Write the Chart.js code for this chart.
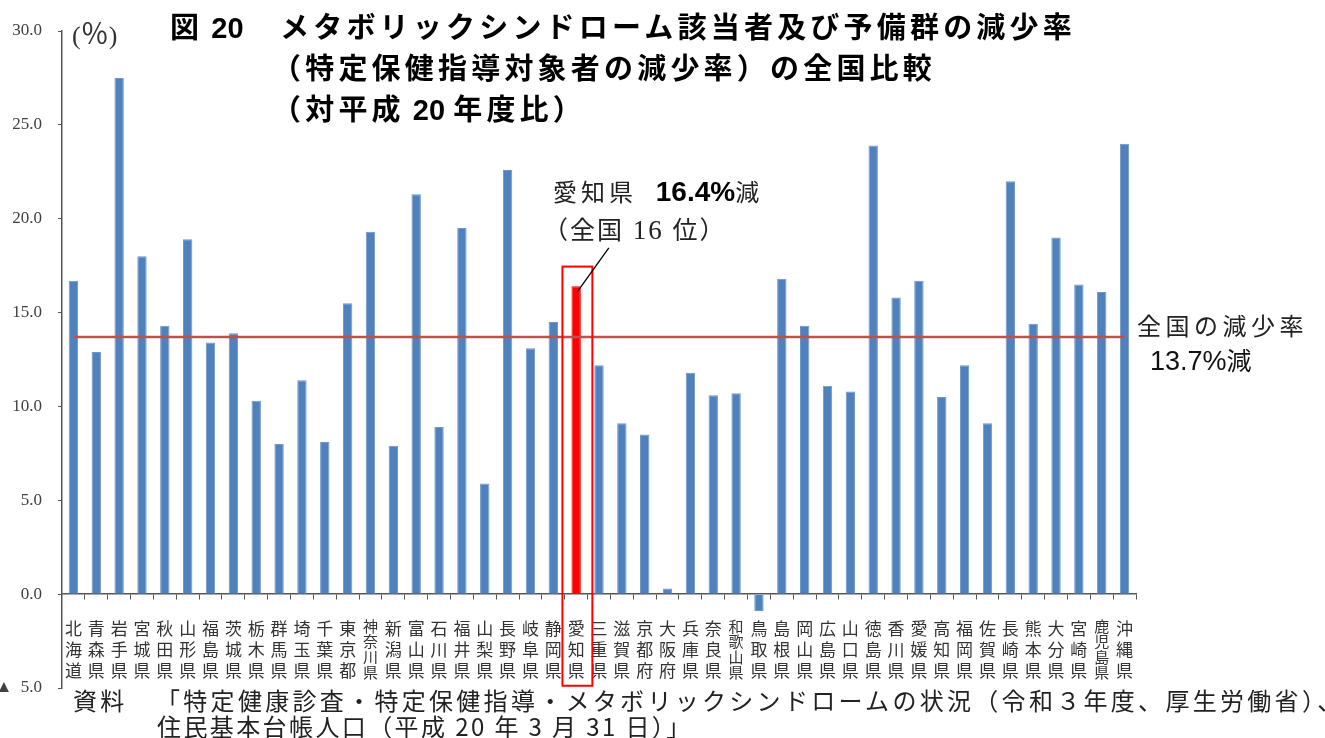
<!DOCTYPE html>
<html><head><meta charset="utf-8">
<script src="https://cdn.jsdelivr.net/npm/chart.js@4.4.1/dist/chart.umd.min.js"></script>
<style>
html,body{margin:0;padding:0;background:#fff;}
#wrap{position:relative;width:1325px;height:738px;overflow:hidden;background:#fff;}
#c{position:absolute;left:0;top:0;}
.t{position:absolute;white-space:nowrap;font-family:"Noto Sans CJK JP",sans-serif;line-height:1;}
.title{font-weight:700;font-size:29px;letter-spacing:4.2px;color:#000;}
.note{font-size:24px;letter-spacing:3.3px;color:#222;font-weight:400;}
.num{font-family:"Liberation Sans",Arial,sans-serif;}
.ser{font-family:"Liberation Serif",serif;}
</style></head>
<body><div id="wrap"><canvas id="c" width="1325" height="738"></canvas>
<div class="t" style="left:72px;top:18px;font-size:26px;color:#333;"><span class="ser">(</span><span style="font-size:28px;">％</span><span class="ser">)</span></div>
<div class="t title" style="left:170px;top:11px;">図<span class="num" style="letter-spacing:0"> 20</span></div>
<div class="t title" style="left:280px;top:11px;">メタボリックシンドローム該当者及び予備群の減少率</div>
<div class="t title" style="left:272px;top:52px;">（特定保健指導対象者の減少率）の全国比較</div>
<div class="t title" style="left:272px;top:93px;">（対平成<span class="num" style="letter-spacing:0"> 20 </span>年度比）</div>
<div class="t" style="left:553px;top:178px;font-size:24px;letter-spacing:4px;color:#222;">愛知県&nbsp;&nbsp;<span class="num" style="font-weight:700;font-size:28px;letter-spacing:0;color:#000;">16.4%</span>減</div>
<div class="t" style="left:543px;top:216px;font-size:25px;letter-spacing:2px;color:#222;">（全国<span class="ser" style="font-size:27px;"> 16 </span>位）</div>
<div class="t" style="left:1137px;top:313px;font-size:24px;letter-spacing:4.5px;color:#222;">全国の減少率</div>
<div class="t" style="left:1150px;top:347px;font-size:25px;color:#111;"><span class="num" style="font-size:27px;">13.7%</span>減</div>
<div class="t note" style="left:73px;top:688px;">資料</div>
<div class="t note" style="left:156px;top:688px;">「特定健康診査・特定保健指導・メタボリックシンドロームの状況（令和３年度、厚生労働省）、</div>
<div class="t note" style="left:157px;top:714px;letter-spacing:2.4px;">住民基本台帳人口（平成 20 年 3 月 31 日）」</div>
</div>
<script>
const prefectures = ['北海道','青森県','岩手県','宮城県','秋田県','山形県','福島県','茨城県','栃木県','群馬県','埼玉県','千葉県','東京都','神奈川県','新潟県','富山県','石川県','福井県','山梨県','長野県','岐阜県','静岡県','愛知県','三重県','滋賀県','京都府','大阪府','兵庫県','奈良県','和歌山県','鳥取県','島根県','岡山県','広島県','山口県','徳島県','香川県','愛媛県','高知県','福岡県','佐賀県','長崎県','熊本県','大分県','宮崎県','鹿児島県','沖縄県'];
const reductionRates = [16.7,12.9,27.5,18.0,14.3,18.9,13.4,13.9,10.3,8.0,11.4,8.1,15.5,19.3,7.9,21.3,8.9,19.5,5.9,22.6,13.1,14.5,16.4,12.2,9.1,8.5,0.3,11.8,10.6,10.7,-0.9,16.8,14.3,11.1,10.8,23.9,15.8,16.7,10.5,12.2,9.1,22.0,14.4,19.0,16.5,16.1,24.0];
const nationalRate = 13.7;
const highlightPrefecture = '愛知県';
const yMin = -5, yMax = 30, yStep = 5;

const aichiBoxPlugin = {
  id: 'aichiBox',
  afterDraw(chart) {
    const {ctx, scales: {x, y}} = chart;
    const i = prefectures.indexOf(highlightPrefecture);
    const cx = x.getPixelForValue(i);
    const cw = x.width / prefectures.length;
    ctx.save();
    ctx.strokeStyle = '#FF0000';
    ctx.lineWidth = 2;
    const top = y.getPixelForValue(17.45), bot = y.getPixelForValue(-4.88);
    ctx.strokeRect(cx - 0.6 * cw, top, 1.31 * cw, bot - top);
    ctx.strokeStyle = '#000';
    ctx.lineWidth = 1.3;
    ctx.beginPath();
    ctx.moveTo(cx + 1.43 * cw, y.getPixelForValue(18.45));
    ctx.lineTo(cx + 0.05 * cw, y.getPixelForValue(16.1));
    ctx.stroke();
    ctx.restore();
  }
};

new Chart(document.getElementById('c'), {
  type: 'bar',
  data: {
    labels: prefectures.map(p => p.split('')),
    datasets: [
      { type: 'line', label: '全国', data: prefectures.map(() => nationalRate), borderColor: '#C0504D', borderWidth: 2.5, pointRadius: 0, fill: false, order: 0 },
      { type: 'bar', label: '減少率', data: reductionRates,
        backgroundColor: prefectures.map(p => p === highlightPrefecture ? '#FF0000' : '#4F81BD'),
        borderColor: prefectures.map(p => p === highlightPrefecture ? '#FF0000' : '#6E96C8'),
        borderWidth: 1, barPercentage: 0.41, categoryPercentage: 1, order: 1 }
    ]
  },
  options: {
    responsive: false, animation: false, devicePixelRatio: 1,
    layout: { padding: { left: 0, right: 189, top: 31, bottom: 50 } },
    plugins: { legend: { display: false }, tooltip: { enabled: false }, title: { display: false } },
    scales: {
      x: {
        position: { y: 0 }, offset: true,
        grid: { display: true, drawOnChartArea: false, drawTicks: true, tickLength: 5, color: '#555', offset: true },
        border: { display: true, color: '#555', width: 1.5 },
        ticks: { autoSkip: false, maxRotation: 0, minRotation: 0, padding: 19, color: '#333',
          font: (c) => ((prefectures[c.index] || '').length > 3)
            ? { family: 'Noto Sans CJK JP', size: 15, lineHeight: '15.5px' }
            : { family: 'Noto Sans CJK JP', size: 17, lineHeight: '21px' } }
      },
      y: {
        min: yMin, max: yMax,
        ticks: { stepSize: yStep, padding: 16, color: '#404040', font: { family: 'Liberation Serif', size: 17 },
          callback: v => v < 0 ? '▲  ' + (-v).toFixed(1) : v.toFixed(1) },
        grid: { drawOnChartArea: false, drawTicks: true, tickLength: 4, color: '#555' },
        border: { display: true, color: '#555', width: 1.5 },
        afterFit: s => { s.width = 62; }
      }
    }
  },
  plugins: [aichiBoxPlugin]
});
</script>
</body></html>
